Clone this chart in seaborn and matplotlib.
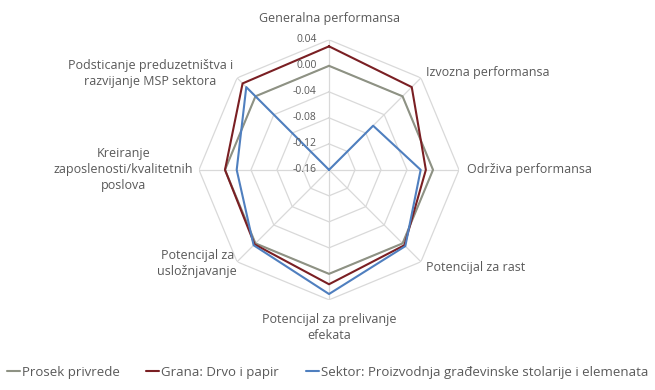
import numpy as np
import pandas as pd
import matplotlib
matplotlib.use("Agg")
import matplotlib.pyplot as plt
import seaborn as sns

# Radar data
categories = [
    "Generalna performansa",
    "Izvozna performansa",
    "Održiva performansa",
    "Potencijal za rast",
    "Potencijal za prelivanje\nefekata",
    "Potencijal za\nusložnjavanje",
    "Kreiranje\nzaposlenosti/kvalitetnih\nposlova",
    "Podsticanje preduzetništva i\nrazvijanje MSP sektora",
]
prosek = [0.0, 0.0, 0.0, 0.0, 0.0, 0.0, 0.0, 0.0]
grana = [0.030, 0.020, -0.011, 0.004, 0.016, 0.002, 0.000, 0.028]
sektor = [-0.160, -0.064, -0.019, 0.006, 0.031, 0.004, -0.018, 0.020]
series_names = [
    "Prosek privrede",
    "Grana: Drvo i papir",
    "Sektor: Proizvodnja građevinske stolarije i elemenata",
]
tick_values = [-0.16, -0.12, -0.08, -0.04, 0.00, 0.04]

colors = ["#8e9284", "#7a1f23", "#4f7fbf"]
text_color = "#595959"
grid_color = "#d9d9d9"

n = len(categories)
thetas = [2 * np.pi * i / n for i in range(n + 1)]

# long table, first point repeated to close each polygon
rows = []
for name, vals in zip(series_names, [prosek, grana, sektor]):
    for i in range(n + 1):
        rows.append({"series": name, "theta": thetas[i], "value": vals[i % n]})
df = pd.DataFrame(rows)

sns.set_style("white")
plt.rcParams["font.family"] = ["Open Sans", "DejaVu Sans"]

fig = plt.figure(figsize=(6.55, 3.9), dpi=100)
ax = fig.add_axes([0.3038, 0.231, 0.397, 0.667], projection="polar")
ax.set_theta_zero_location("N")
ax.set_theta_direction(-1)
ax.set_ylim(tick_values[0], tick_values[-1])

# octagonal grid + spokes
for t in tick_values[1:]:
    ax.plot(thetas, [t] * (n + 1), color=grid_color, lw=0.9, zorder=0)
for th in thetas[:-1]:
    ax.plot([th, th], [tick_values[0], tick_values[-1]], color=grid_color, lw=0.9, zorder=0)

sns.lineplot(data=df, x="theta", y="value", hue="series", hue_order=series_names,
             palette=colors, sort=False, estimator=None, linewidth=1.5, ax=ax)

handles, labels = ax.get_legend_handles_labels()
ax.get_legend().remove()

ax.set_xticks([])
ax.set_yticks([])
ax.grid(False)
ax.spines["polar"].set_visible(False)
ax.patch.set_visible(False)
ax.set_xlabel("")
ax.set_ylabel("")

# radial tick labels along the top spoke
for t in tick_values:
    ax.annotate(f"{t:.2f}", xy=(0, t), xytext=(-9, 0), textcoords="offset points",
                ha="right", va="center", fontsize=7.5, color=text_color,
                annotation_clip=False)

# category labels
label_style = [
    (0, 15, "center", "center"),
    (4, 4, "left", "center"),
    (6, 0, "left", "center"),
    (4, -4, "left", "center"),
    (0, -20, "center", "center"),
    (0, -1, "right", "center"),
    (-4, 0, "right", "center"),
    (-3, 3, "right", "center"),
]
for th, cat, (dx, dy, ha, va) in zip(thetas, categories, label_style):
    ax.annotate(cat, xy=(th, tick_values[-1]), xytext=(dx, dy), textcoords="offset points",
                ha=ha, va=va, multialignment="center", fontsize=9, color=text_color,
                linespacing=1.3, annotation_clip=False)

fig.legend(handles, labels, loc="center", bbox_to_anchor=(0.5, 0.045), ncol=3,
           frameon=False, fontsize=9.5, handlelength=1.0, handletextpad=0.15,
           columnspacing=2.0, labelcolor=text_color)

fig.savefig("out.png", dpi=100)
